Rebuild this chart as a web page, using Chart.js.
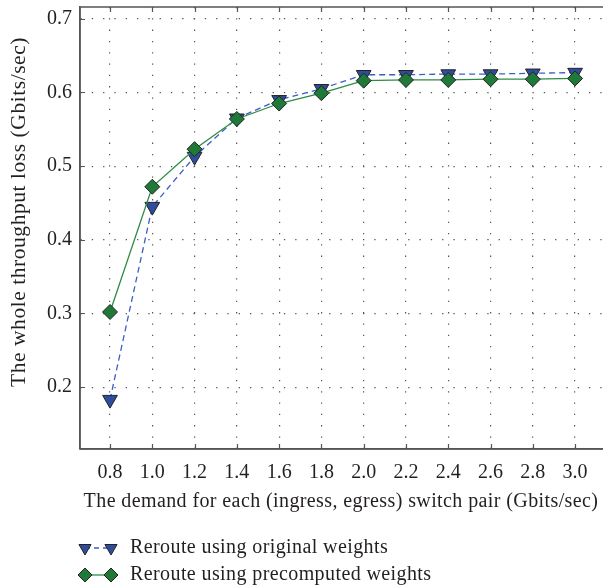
<!DOCTYPE html>
<html>
<head>
<meta charset="utf-8">
<script src="https://cdn.jsdelivr.net/npm/chart.js@4/dist/chart.umd.min.js"></script>
<style>
html,body{margin:0;padding:0;background:#fff;overflow:hidden;}
#wrap{width:603px;height:587px;position:relative;}
</style>
</head>
<body>
<div id="wrap"><canvas id="c" width="603" height="587"></canvas></div>
<script>
const demand = [0.8, 1.0, 1.2, 1.4, 1.6, 1.8, 2.0, 2.2, 2.4, 2.6, 2.8, 3.0];
const originalWeights = [0.183, 0.445, 0.513, 0.565, 0.590, 0.605, 0.624, 0.624, 0.625, 0.625, 0.626, 0.627];
const precomputedWeights = [0.302, 0.472, 0.523, 0.564, 0.585, 0.599, 0.616, 0.617, 0.617, 0.618, 0.618, 0.619];
const xTicks = [0.8, 1.0, 1.2, 1.4, 1.6, 1.8, 2.0, 2.2, 2.4, 2.6, 2.8, 3.0];
const yTicks = [0.2, 0.3, 0.4, 0.5, 0.6, 0.7];
const seriesNames = ['Reroute using original weights', 'Reroute using precomputed weights'];
const xTitle = 'The demand for each (ingress, egress) switch pair (Gbits/sec)';
const yTitle = 'The whole throughput loss (Gbits/sec)';

const FONT = "'Liberation Serif', 'DejaVu Serif', serif";
const TXT = '#231f20';
const AX = '#555555';
const BLUE_FILL = '#2f4d9c';
const BLUE_LINE = '#3b5fc4';
const GREEN_FILL = '#1f7a3a';
const GREEN_LINE = '#2e8b45';

function pts(xs, ys){ return xs.map((x,i)=>({x:x, y:ys[i]})); }

const boxPlugin = {
  id: 'box',
  afterDraw(chart){
    const ctx = chart.ctx;
    const a = chart.chartArea;
    const xs = chart.scales.x, ys = chart.scales.y;
    ctx.save();
    ctx.strokeStyle = AX;
    ctx.lineWidth = 1.5;
    ctx.beginPath();
    ctx.moveTo(a.left, a.top); ctx.lineTo(a.right, a.top);
    ctx.moveTo(a.left, a.top); ctx.lineTo(a.left, a.bottom);
    ctx.moveTo(a.left, a.bottom); ctx.lineTo(a.right, a.bottom);
    ctx.stroke();
    ctx.lineWidth = 1.2;
    ctx.beginPath();
    xTicks.forEach(v=>{
      const px = Math.round(xs.getPixelForValue(v))+0.5;
      ctx.moveTo(px, a.bottom); ctx.lineTo(px, a.bottom-5);
      ctx.moveTo(px, a.top); ctx.lineTo(px, a.top+5);
    });
    yTicks.forEach(v=>{
      const py = Math.round(ys.getPixelForValue(v))+0.5;
      ctx.moveTo(a.left, py); ctx.lineTo(a.left+5, py);
    });
    ctx.stroke();

    // axis titles
    ctx.fillStyle = TXT;
    ctx.textAlign = 'center';
    ctx.textBaseline = 'middle';
    ctx.font = "20px " + FONT;
    ctx.letterSpacing = '0.4px';
    ctx.fillText(xTitle, 341, 502);
    ctx.save();
    ctx.translate(19, 212);
    ctx.rotate(-Math.PI/2);
    ctx.font = "21.5px " + FONT;
    ctx.letterSpacing = '0.55px';
    ctx.fillText(yTitle, 0, 0);
    ctx.restore();

    // legend
    const rows = [
      {y: 548, name: seriesNames[0], kind: 'tri'},
      {y: 575, name: seriesNames[1], kind: 'dia'}
    ];
    rows.forEach(r=>{
      const x1 = 85, x2 = 111;
      ctx.save();
      ctx.letterSpacing = '0px';
      if (r.kind === 'tri'){
        ctx.strokeStyle = BLUE_LINE; ctx.lineWidth = 1.3; ctx.setLineDash([5,4]);
      } else {
        ctx.strokeStyle = GREEN_LINE; ctx.lineWidth = 1.3; ctx.setLineDash([]);
      }
      ctx.beginPath(); ctx.moveTo(x1, r.y); ctx.lineTo(x2, r.y); ctx.stroke();
      ctx.setLineDash([]);
      [x1, x2].forEach(cx=>{
        ctx.beginPath();
        if (r.kind === 'tri'){
          const R = 7;
          ctx.moveTo(cx - R*0.866, r.y - R*0.5);
          ctx.lineTo(cx + R*0.866, r.y - R*0.5);
          ctx.lineTo(cx, r.y + R);
          ctx.closePath();
          ctx.fillStyle = BLUE_FILL;
        } else {
          const R = 7;
          ctx.moveTo(cx, r.y - R); ctx.lineTo(cx + R, r.y);
          ctx.lineTo(cx, r.y + R); ctx.lineTo(cx - R, r.y);
          ctx.closePath();
          ctx.fillStyle = GREEN_FILL;
        }
        ctx.fill();
        ctx.strokeStyle = '#222'; ctx.lineWidth = 1;
        ctx.stroke();
      });
      ctx.restore();
      ctx.fillStyle = TXT;
      ctx.font = "20px " + FONT;
      ctx.letterSpacing = '0.4px';
      ctx.textAlign = 'left';
      ctx.textBaseline = 'middle';
      ctx.fillText(r.name, 130, r.y);
    });
    ctx.restore();
  }
};

new Chart(document.getElementById('c'), {
  type: 'line',
  data: {
    datasets: [
      {
        label: seriesNames[0],
        data: pts(demand, originalWeights),
        order: 1,
        borderColor: BLUE_LINE,
        borderWidth: 1.3,
        borderDash: [6,4],
        pointStyle: 'triangle',
        rotation: 180,
        pointRadius: 8.5,
        pointBackgroundColor: BLUE_FILL,
        pointBorderColor: '#222',
        pointBorderWidth: 1,
        tension: 0,
        fill: false
      },
      {
        label: seriesNames[1],
        data: pts(demand, precomputedWeights),
        order: 0,
        borderColor: GREEN_LINE,
        borderWidth: 1.3,
        pointStyle: 'rectRot',
        pointRadius: 7.5,
        pointBackgroundColor: GREEN_FILL,
        pointBorderColor: '#222',
        pointBorderWidth: 1,
        tension: 0,
        fill: false
      }
    ]
  },
  options: {
    responsive: false,
    animation: false,
    devicePixelRatio: 1,
    layout: { autoPadding: false, padding: { top: 7, right: 0, left: 0, bottom: 0 } },
    plugins: { legend: { display: false }, tooltip: { enabled: false } },
    scales: {
      x: {
        type: 'linear',
        min: 0.658,
        max: 3.132,
        afterBuildTicks: s => { s.ticks = xTicks.map(v=>({value:v})); },
        afterFit: s => { s.height = 138; s.paddingLeft = 0; s.paddingRight = 0; },
        ticks: {
          callback: v => v.toFixed(1),
          color: TXT,
          font: { family: FONT, size: 20 },
          padding: 12,
          maxRotation: 0,
          autoSkip: false
        },
        grid: { color: AX, lineWidth: 1.2, drawTicks: false },
        border: { display: true, color: AX, width: 1.5, dash: [1.3, 10] }
      },
      y: {
        type: 'linear',
        min: 0.116,
        max: 0.716,
        afterBuildTicks: s => { s.ticks = yTicks.map(v=>({value:v})); },
        afterFit: s => { s.width = 80; s.paddingTop = 0; s.paddingBottom = 0; },
        ticks: {
          callback: v => v.toFixed(1),
          color: TXT,
          font: { family: FONT, size: 20 },
          padding: 8
        },
        grid: { color: AX, lineWidth: 1.2, drawTicks: false },
        border: { display: true, color: AX, width: 1.5, dash: [1.3, 10] }
      }
    }
  },
  plugins: [boxPlugin]
});
</script>
</body>
</html>
